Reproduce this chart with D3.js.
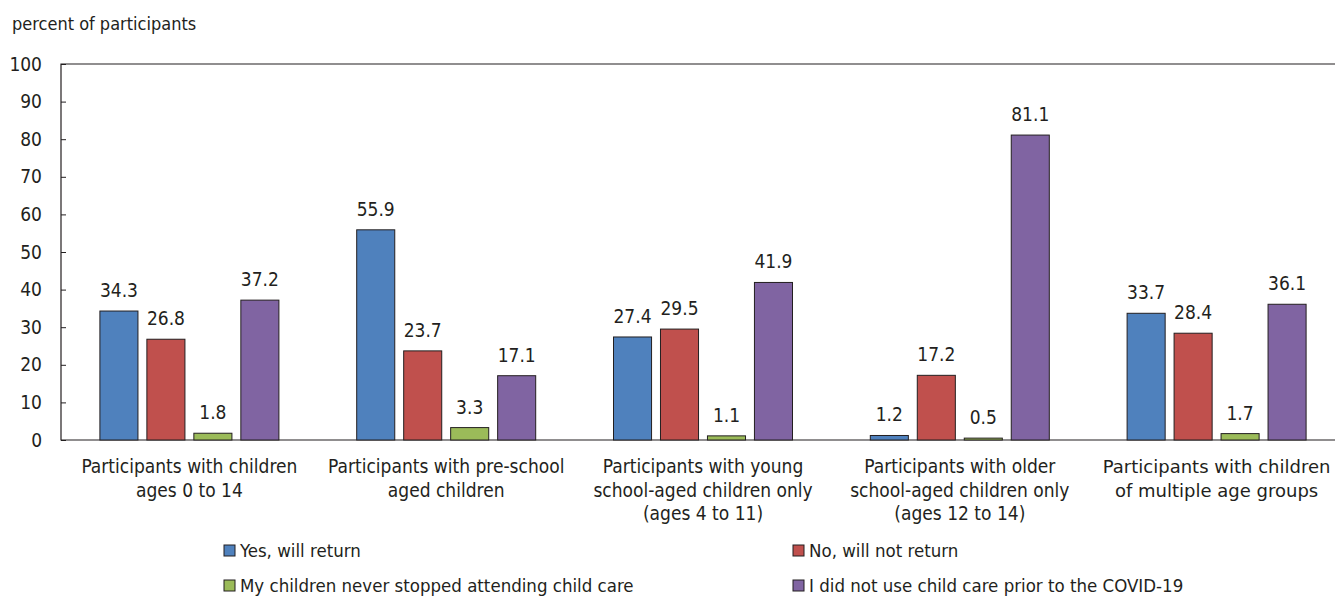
<!DOCTYPE html>
<html>
<head>
<meta charset="utf-8">
<script src="https://cdn.jsdelivr.net/npm/d3@7"></script>
<style>
  body { margin: 0; background: #fff; overflow: hidden; }
  text { font-family: "DejaVu Sans Condensed", "Liberation Sans Narrow", sans-serif; fill: #231f20; }
</style>
</head>
<body>
<script>
// categories (each line of the label is an entry)
const categories = [
  ["Participants with children", "ages 0 to 14"],
  ["Participants with pre-school", "aged children"],
  ["Participants with young", "school-aged children only", "(ages 4 to 11)"],
  ["Participants with older", "school-aged children only", "(ages 12 to 14)"],
  ["Participants with children", "of multiple age groups"]
]
const seriesNames = [
  "Yes, will return",
  "No, will not return",
  "My children never stopped attending child care",
  "I did not use child care prior to the COVID-19"
]
const yesReturn = [34.3, 55.9, 27.4, 1.2, 33.7]
const noReturn = [26.8, 23.7, 29.5, 17.2, 28.4]
const neverStopped = [1.8, 3.3, 1.1, 0.5, 1.7]
const noChildCare = [37.2, 17.1, 41.9, 81.1, 36.1]
const yTicks = [0, 10, 20, 30, 40, 50, 60, 70, 80, 90, 100]
const colors = ["#4f81bd", "#c0504d", "#9bbb59", "#8064a2"]

function plot() {
  let W = 1335, H = 597
  // plot area runs past the right edge of the picture (cropped)
  let margin = {top: 64, left: 61}
  let width = 1284
  let height = 376

  let svg = d3.select("body").append("svg")
    .attr("width", W).attr("height", H)
  let g = svg.append("g")
    .attr("transform", "translate(" + margin.left + "," + margin.top + ")")

  let x0 = d3.scaleBand().domain(d3.range(categories.length)).range([0, width])
  let x1 = d3.scaleBand().domain(d3.range(4)).range([0, 179]).paddingInner(0.19)
  let y = d3.scaleLinear().domain([0, 100]).range([height, 0])

  let series = [yesReturn, noReturn, neverStopped, noChildCare]

  // y axis title
  svg.append("text")
    .attr("x", 12).attr("y", 30)
    .style("font-size", "18px")
    .text("percent of participants")

  // frame (top, left, bottom)
  g.append("path")
    .attr("d", "M" + width + ",0H0V" + height + "H" + width)
    .attr("fill", "none").attr("stroke", "#231f20").attr("stroke-width", 1.2)

  // y axis (ticks inward)
  let yAxis = g.append("g")
    .call(d3.axisLeft(y).tickValues(yTicks).tickSize(-5).tickPadding(19))
  yAxis.select(".domain").remove()
  yAxis.selectAll("line").attr("stroke", "#231f20")
  yAxis.selectAll("text").style("font-size", "19px").attr("text-anchor", "end")
    .attr("fill", "#231f20")

  // bars
  let groups = g.selectAll(".grp")
    .data(categories.map((c, i) => i))
    .enter().append("g")
    .attr("transform", i => "translate(" + (x0(i) + (x0.bandwidth() - 179) / 2) + ",0)")

  groups.each(function(ci) {
    let gg = d3.select(this)
    series.forEach((s, si) => {
      gg.append("rect")
        .attr("x", x1(si))
        .attr("y", y(s[ci]))
        .attr("width", x1.bandwidth())
        .attr("height", height - y(s[ci]))
        .attr("fill", colors[si])
        .attr("stroke", "#231f20").attr("stroke-width", 1)
      gg.append("text")
        .attr("x", x1(si) + x1.bandwidth() / 2)
        .attr("y", y(s[ci]) - 14)
        .attr("text-anchor", "middle")
        .style("font-size", "19px")
        .text(s[ci].toFixed(1))
    })
  })

  // category labels
  categories.forEach((lines, i) => {
    let t = g.append("text")
      .attr("x", x0(i) + x0.bandwidth() / 2)
      .attr("y", height + 33)
      .attr("text-anchor", "middle")
      .style("font-size", "19px")
    // the last label uses a wider face in the original
    if (i == categories.length - 1) t.style("font-family", "'DejaVu Sans', sans-serif").style("font-size", "18px")
    lines.forEach((l, li) => {
      t.append("tspan").attr("x", x0(i) + x0.bandwidth() / 2)
        .attr("dy", li == 0 ? 0 : 23.5).text(l)
    })
  })

  // legend
  let legPos = [[224, 557], [793, 557], [224, 592], [793, 592]]
  seriesNames.forEach((name, i) => {
    let lg = svg.append("g").attr("transform", "translate(" + legPos[i][0] + "," + legPos[i][1] + ")")
    lg.append("rect").attr("x", 0).attr("y", -12).attr("width", 11).attr("height", 11)
      .attr("fill", colors[i]).attr("stroke", "#231f20").attr("stroke-width", 1)
    lg.append("text").attr("x", 16).attr("y", 0)
      .style("font-size", "18.5px").text(name)
  })
}

plot()
</script>
</body>
</html>
